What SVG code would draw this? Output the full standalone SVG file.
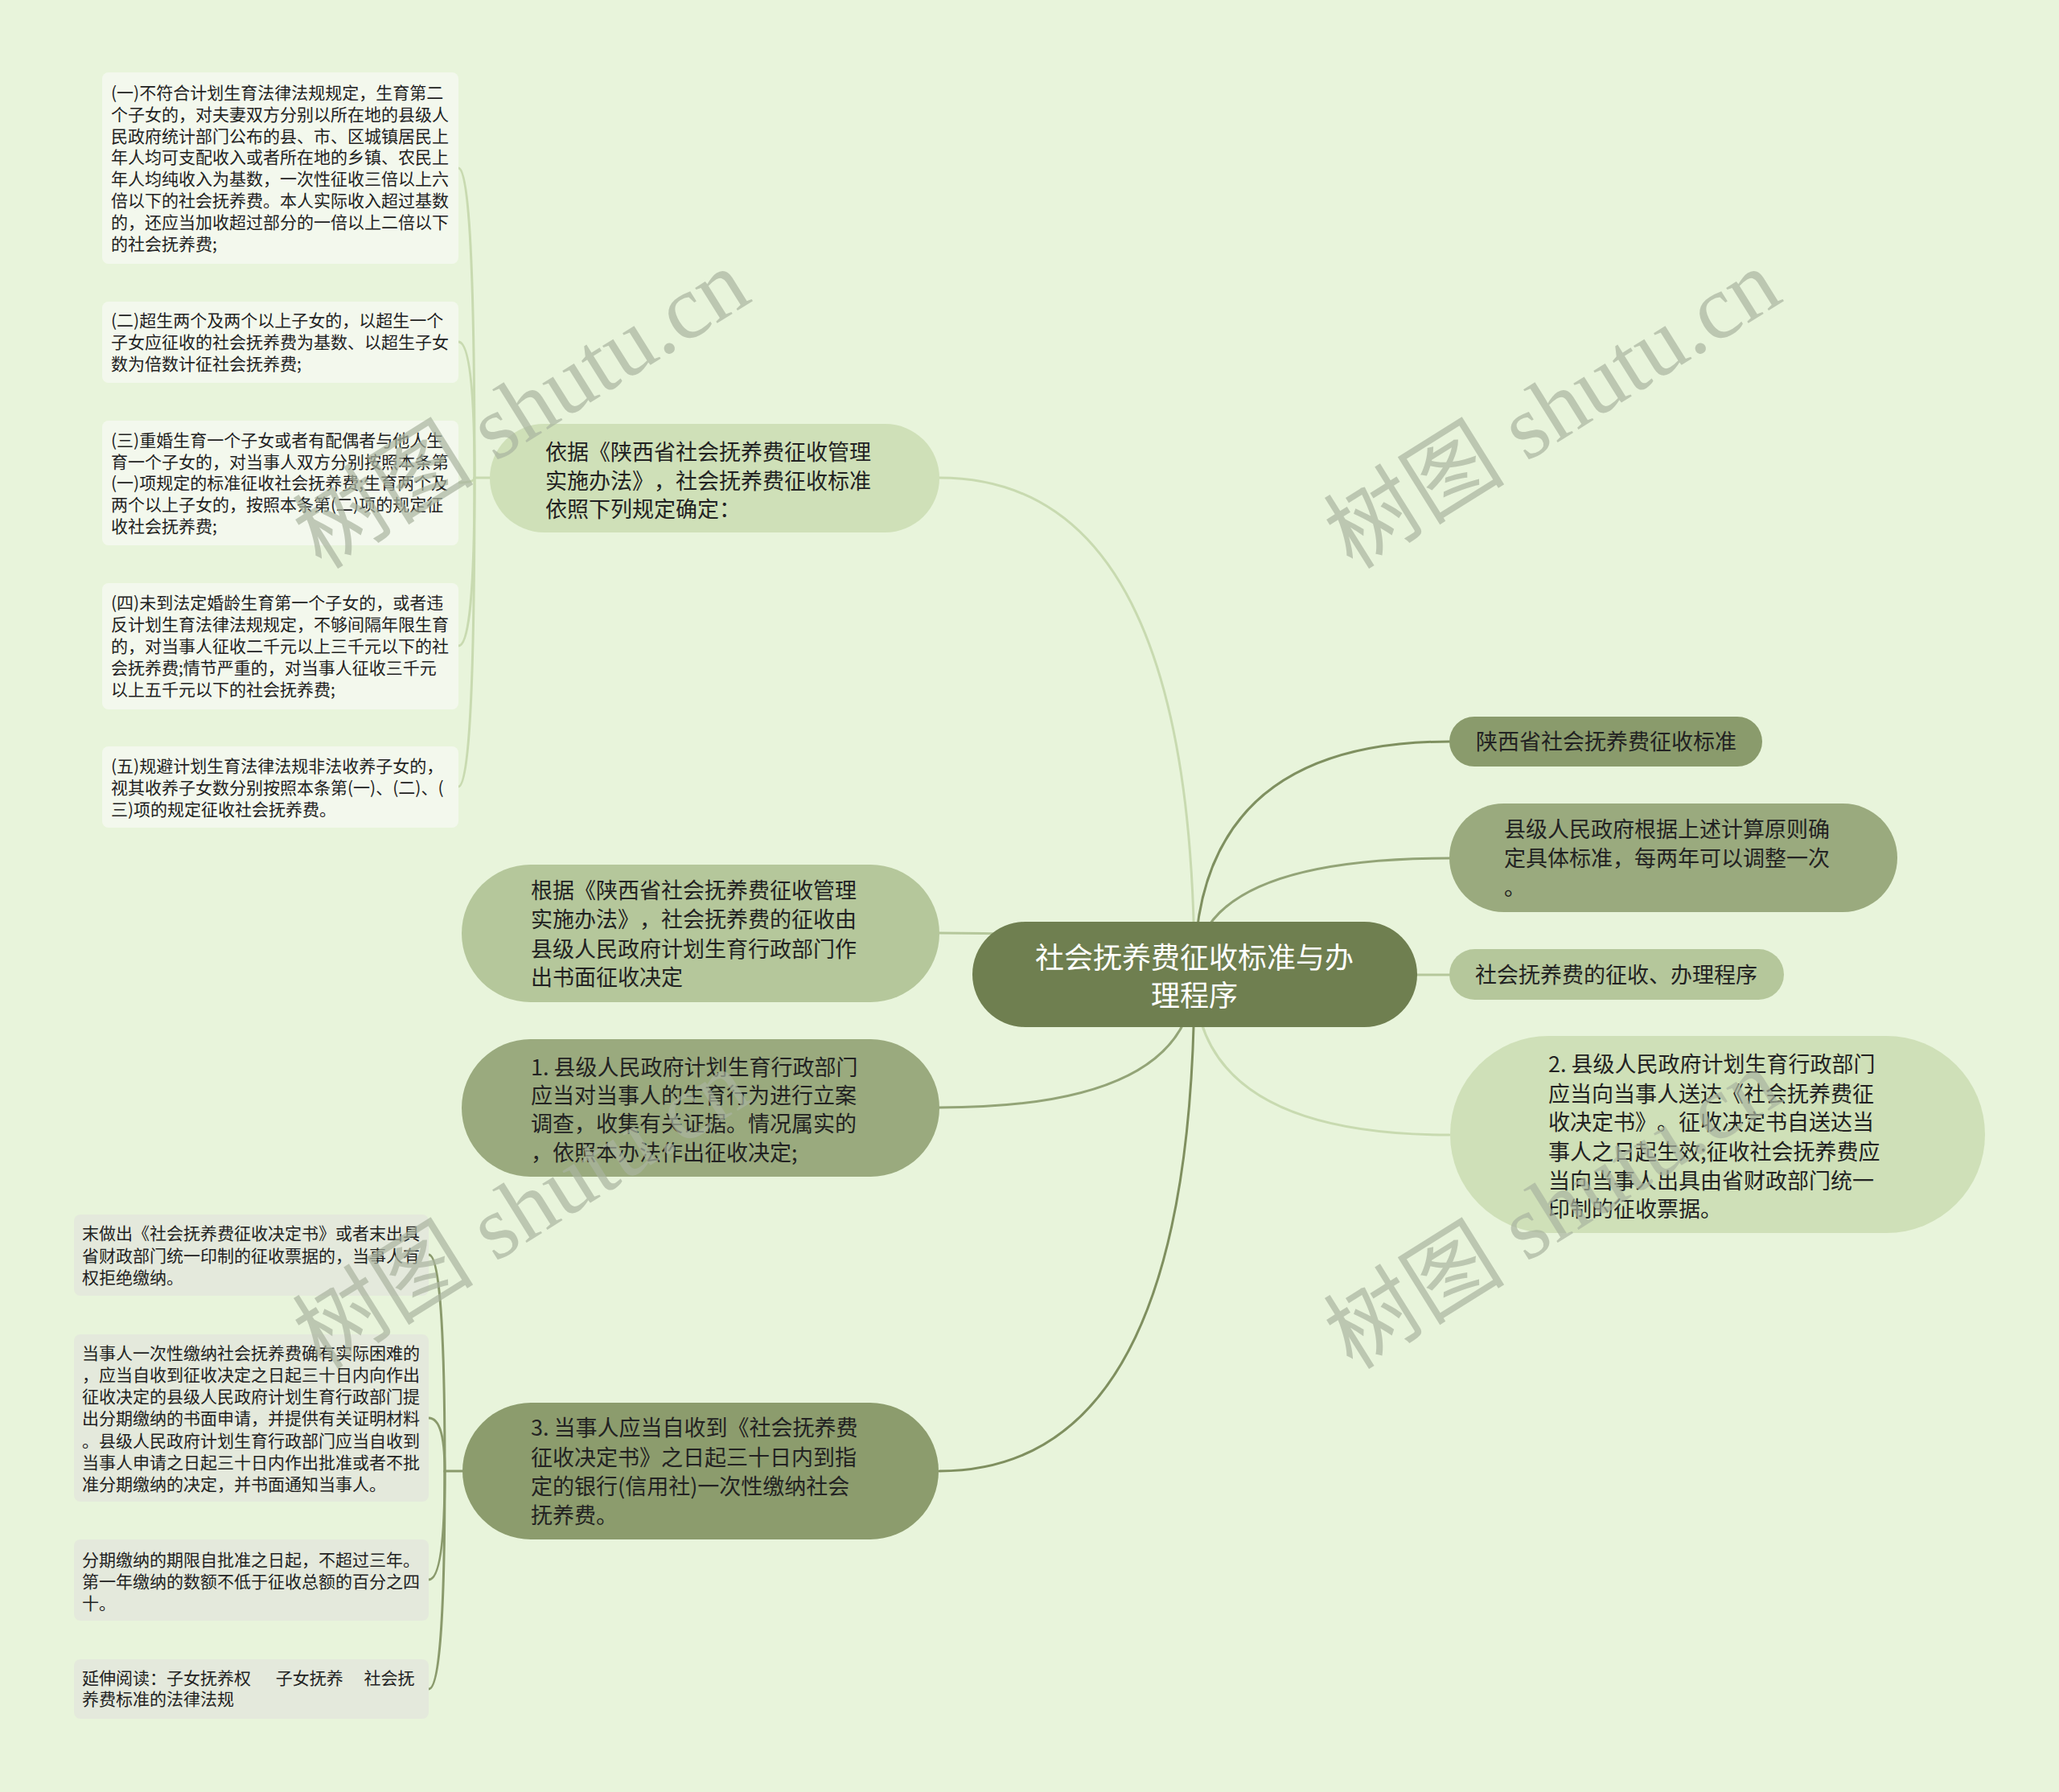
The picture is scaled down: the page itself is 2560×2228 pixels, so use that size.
<svg xmlns="http://www.w3.org/2000/svg" width="2560" height="2228" viewBox="0 0 2560 2228">
<style>
.t{font-family:"Noto Sans CJK SC","Noto Sans",sans-serif;fill:#222;text-spacing-trim:space-all}
.s21{font-size:21px}
.s27{font-size:27px}
.c36{font-family:"Noto Sans CJK SC","Noto Sans",sans-serif;font-size:36px;fill:#ffffff;text-anchor:middle}
.leafA{fill:#f3f8ed}
.leafB{fill:#e4e9dc}
.ln{fill:none;stroke-width:3;stroke-linecap:round}
.wm{font-family:"Liberation Serif","Noto Sans CJK SC",serif;font-size:113px;fill:#aab4a0;opacity:0.7;text-anchor:middle}
</style>
<rect x="0" y="0" width="2560" height="2228" fill="#e8f4db"/>

<g id="connectors">
<path class="ln" stroke="#c8dab0" d="M1485 1211 Q1485 594 1168 594"/>
<path class="ln" stroke="#b5c79b" d="M1485 1211 Q1485 1160 1168 1160"/>
<path class="ln" stroke="#93a477" d="M1485 1211 Q1485 1377 1168 1377"/>
<path class="ln" stroke="#7f8f5f" d="M1485 1211 Q1485 1829 1168 1829"/>
<path class="ln" stroke="#7f9060" d="M1485 1211 Q1485 922 1802 922"/>
<path class="ln" stroke="#93a477" d="M1485 1211 Q1485 1067 1802 1067"/>
<path class="ln" stroke="#b5c79b" d="M1485 1211 Q1485 1212 1802 1212"/>
<path class="ln" stroke="#c8dab0" d="M1485 1211 Q1485 1411 1802 1411"/>
<g stroke="#c8dab0" class="ln">
<path class="ln" d="M609 594 L590 594 Q590 209 570 209"/>
<path class="ln" d="M590 594 Q590 425 570 425"/>
<path class="ln" d="M590 594 Q590 600 570 600"/>
<path class="ln" d="M590 594 Q590 803 570 803"/>
<path class="ln" d="M590 594 Q590 978 570 978"/>
</g>
<g stroke="#8a9a6c" class="ln">
<path class="ln" d="M575 1829 L553 1829 Q553 1560 533 1560"/>
<path class="ln" d="M553 1829 Q553 1763 533 1763"/>
<path class="ln" d="M553 1829 Q553 1964 533 1964"/>
<path class="ln" d="M553 1829 Q553 2100 533 2100"/>
</g>
</g>

<g id="root">
<rect x="1209" y="1146" width="553" height="131" rx="65.5" fill="#6f7f50"/>
<text class="c36"><tspan x="1485" y="1204">社会抚养费征收标准与办</tspan><tspan x="1485" y="1251">理程序</tspan></text>
</g>

<g id="n-yiju">
<rect x="609" y="527" width="559" height="135" rx="67.5" fill="#cfe0b8"/>
<text class="t s27"><tspan x="678" y="572">依据《陕西省社会抚养费征收管理</tspan><tspan x="678" y="608">实施办法》，社会抚养费征收标准</tspan><tspan x="678" y="643">依照下列规定确定：</tspan></text>
</g>

<g id="leaf-1">
<rect class="leafA" x="127" y="90" width="443" height="238" rx="8"/>
<text class="t s21"><tspan x="138" y="123">(一)不符合计划生育法律法规规定，生育第二</tspan><tspan x="138" y="149.8">个子女的，对夫妻双方分别以所在地的县级人</tspan><tspan x="138" y="176.6">民政府统计部门公布的县、市、区城镇居民上</tspan><tspan x="138" y="203.4">年人均可支配收入或者所在地的乡镇、农民上</tspan><tspan x="138" y="230.2">年人均纯收入为基数，一次性征收三倍以上六</tspan><tspan x="138" y="257">倍以下的社会抚养费。本人实际收入超过基数</tspan><tspan x="138" y="283.8">的，还应当加收超过部分的一倍以上二倍以下</tspan><tspan x="138" y="310.6">的社会抚养费;</tspan></text>
</g>

<g id="leaf-2">
<rect class="leafA" x="127" y="375" width="443" height="101" rx="8"/>
<text class="t s21"><tspan x="138" y="406">(二)超生两个及两个以上子女的，以超生一个</tspan><tspan x="138" y="433">子女应征收的社会抚养费为基数、以超生子女</tspan><tspan x="138" y="460">数为倍数计征社会抚养费;</tspan></text>
</g>

<g id="leaf-3">
<rect class="leafA" x="127" y="523" width="443" height="155" rx="8"/>
<text class="t s21"><tspan x="138" y="555">(三)重婚生育一个子女或者有配偶者与他人生</tspan><tspan x="138" y="581.7">育一个子女的，对当事人双方分别按照本条第</tspan><tspan x="138" y="608.4">(一)项规定的标准征收社会抚养费;生育两个及</tspan><tspan x="138" y="635.1">两个以上子女的，按照本条第(二)项的规定征</tspan><tspan x="138" y="661.8">收社会抚养费;</tspan></text>
</g>

<g id="leaf-4">
<rect class="leafA" x="127" y="725" width="443" height="157" rx="8"/>
<text class="t s21"><tspan x="138" y="757">(四)未到法定婚龄生育第一个子女的，或者违</tspan><tspan x="138" y="784">反计划生育法律法规规定，不够间隔年限生育</tspan><tspan x="138" y="811">的，对当事人征收二千元以上三千元以下的社</tspan><tspan x="138" y="838">会抚养费;情节严重的，对当事人征收三千元</tspan><tspan x="138" y="865">以上五千元以下的社会抚养费;</tspan></text>
</g>

<g id="leaf-5">
<rect class="leafA" x="127" y="928" width="443" height="101" rx="8"/>
<text class="t s21"><tspan x="138" y="960">(五)规避计划生育法律法规非法收养子女的，</tspan><tspan x="138" y="987">视其收养子女数分别按照本条第(一)、(二)、(</tspan><tspan x="138" y="1014">三)项的规定征收社会抚养费。</tspan></text>
</g>

<g id="n-genju">
<rect x="574" y="1075" width="594" height="171" rx="85.5" fill="#b5c79b"/>
<text class="t s27"><tspan x="660" y="1117">根据《陕西省社会抚养费征收管理</tspan><tspan x="660" y="1153">实施办法》，社会抚养费的征收由</tspan><tspan x="660" y="1190">县级人民政府计划生育行政部门作</tspan><tspan x="660" y="1225">出书面征收决定</tspan></text>
</g>

<g id="n-1">
<rect x="574" y="1292" width="594" height="171" rx="85.5" fill="#9aaa7e"/>
<text class="t s27"><tspan x="660" y="1337">1. 县级人民政府计划生育行政部门</tspan><tspan x="660" y="1372">应当对当事人的生育行为进行立案</tspan><tspan x="660" y="1407">调查，收集有关证据。情况属实的</tspan><tspan x="660" y="1443">，依照本办法作出征收决定;</tspan></text>
</g>

<g id="n-3">
<rect x="575" y="1744" width="592" height="170" rx="85" fill="#8c9c6d"/>
<text class="t s27"><tspan x="660" y="1785">3. 当事人应当自收到《社会抚养费</tspan><tspan x="660" y="1822">征收决定书》之日起三十日内到指</tspan><tspan x="660" y="1858">定的银行(信用社)一次性缴纳社会</tspan><tspan x="660" y="1894">抚养费。</tspan></text>
</g>

<g id="leaf-a">
<rect class="leafB" x="92" y="1510" width="441" height="101" rx="8"/>
<text class="t s21"><tspan x="102" y="1541">末做出《社会抚养费征收决定书》或者末出具</tspan><tspan x="102" y="1569">省财政部门统一印制的征收票据的，当事人有</tspan><tspan x="102" y="1596">权拒绝缴纳。</tspan></text>
</g>

<g id="leaf-b">
<rect class="leafB" x="92" y="1659" width="441" height="208" rx="8"/>
<text class="t s21"><tspan x="102" y="1690">当事人一次性缴纳社会抚养费确有实际困难的</tspan><tspan x="102" y="1717">，应当自收到征收决定之日起三十日内向作出</tspan><tspan x="102" y="1744">征收决定的县级人民政府计划生育行政部门提</tspan><tspan x="102" y="1771">出分期缴纳的书面申请，并提供有关证明材料</tspan><tspan x="102" y="1799">。县级人民政府计划生育行政部门应当自收到</tspan><tspan x="102" y="1826">当事人申请之日起三十日内作出批准或者不批</tspan><tspan x="102" y="1853">准分期缴纳的决定，并书面通知当事人。</tspan></text>
</g>

<g id="leaf-c">
<rect class="leafB" x="92" y="1914" width="441" height="101" rx="8"/>
<text class="t s21"><tspan x="102" y="1947">分期缴纳的期限自批准之日起，不超过三年。</tspan><tspan x="102" y="1974">第一年缴纳的数额不低于征收总额的百分之四</tspan><tspan x="102" y="2001">十。</tspan></text>
</g>

<g id="leaf-d">
<rect class="leafB" x="92" y="2063" width="441" height="74" rx="8"/>
<text class="t s21"><tspan x="102" y="2094">延伸阅读：子女抚养权</tspan> <tspan dx="26">子女抚养</tspan> <tspan dx="21">社会抚</tspan><tspan x="102" y="2120">养费标准的法律法规</tspan></text>
</g>

<g id="n-shaanxi">
<rect x="1802" y="891" width="389" height="62" rx="31" fill="#8a9b6c"/>
<text class="t s27"><tspan x="1835" y="932">陕西省社会抚养费征收标准</tspan></text>
</g>

<g id="n-xianji">
<rect x="1802" y="999" width="557" height="135" rx="67.5" fill="#9aaa7e"/>
<text class="t s27"><tspan x="1870" y="1041">县级人民政府根据上述计算原则确</tspan><tspan x="1870" y="1077">定具体标准，每两年可以调整一次</tspan><tspan x="1870" y="1113">。</tspan></text>
</g>

<g id="n-chengxu">
<rect x="1802" y="1180" width="416" height="63" rx="31.5" fill="#b5c79b"/>
<text class="t s27"><tspan x="1834" y="1222">社会抚养费的征收、办理程序</tspan></text>
</g>

<g id="n-2">
<rect x="1803" y="1288" width="665" height="245" rx="122.5" fill="#cfe0b8"/>
<text class="t s27"><tspan x="1925" y="1333">2. 县级人民政府计划生育行政部门</tspan><tspan x="1925" y="1370">应当向当事人送达《社会抚养费征</tspan><tspan x="1925" y="1405">收决定书》。征收决定书自送达当</tspan><tspan x="1925" y="1442">事人之日起生效;征收社会抚养费应</tspan><tspan x="1925" y="1478">当向当事人出具由省财政部门统一</tspan><tspan x="1925" y="1513">印制的征收票据。</tspan></text>
</g>

<g id="watermark">
<text class="wm" transform="translate(649 510) rotate(-32)" x="0" y="37">树图 shutu.cn</text>
<text class="wm" transform="translate(1931 510) rotate(-32)" x="0" y="37">树图 shutu.cn</text>
<text class="wm" transform="translate(649 1505) rotate(-32)" x="0" y="37">树图 shutu.cn</text>
<text class="wm" transform="translate(1931 1505) rotate(-32)" x="0" y="37">树图 shutu.cn</text>
</g>
</svg>
